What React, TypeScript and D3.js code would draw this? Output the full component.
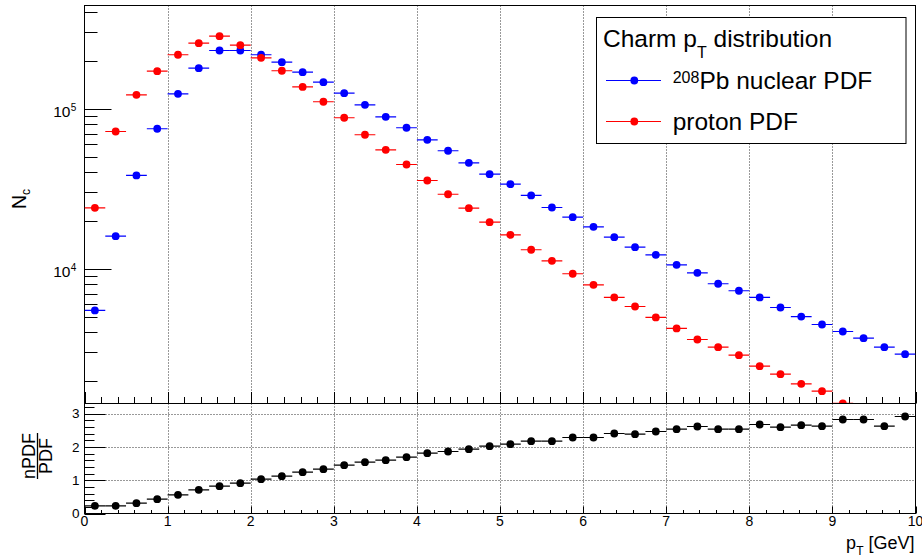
import React from "react";
import * as d3 from "d3";

// ---- data (40 bins of 0.25 GeV) ----
const ptCenters = [
  0.125, 0.375, 0.625, 0.875, 1.125, 1.375, 1.625, 1.875, 2.125, 2.375,
  2.625, 2.875, 3.125, 3.375, 3.625, 3.875, 4.125, 4.375, 4.625, 4.875,
  5.125, 5.375, 5.625, 5.875, 6.125, 6.375, 6.625, 6.875, 7.125, 7.375,
  7.625, 7.875, 8.125, 8.375, 8.625, 8.875, 9.125, 9.375, 9.625, 9.875,
];
const binHalfWidth = 0.125;

const nuclearPDF = [
  5490, 15990, 38300, 75000, 124000, 179400, 231300, 231300, 217600, 195500,
  169300, 146700, 125200, 105900, 89100, 76100, 64000, 54640, 45970, 39000,
  33800, 28730, 24160, 21020, 18300, 15760, 13650, 12230, 10590, 9440,
  8060, 7290, 6620, 5730, 5030, 4485, 4055, 3683, 3236, 2926,
];
const protonPDF = [
  24050, 72120, 122300, 171800, 217600, 257000, 284300, 249800, 208300, 172800,
  136900, 110600, 87880, 68800, 55430, 44850, 35630, 29230, 23920, 19550,
  16310, 13150, 11220, 9310, 7940, 6620, 5810, 4965, 4236, 3615,
  3236, 2884, 2461, 2194, 1910, 1718, 1440, 1306, 1235, 1005,
];
const ratio = [
  0.23, 0.23, 0.31, 0.43, 0.56, 0.71, 0.82, 0.91, 1.03, 1.12,
  1.24, 1.33, 1.45, 1.54, 1.6, 1.69, 1.81, 1.86, 1.93, 2.02,
  2.08, 2.17, 2.17, 2.28, 2.28, 2.4, 2.38, 2.46, 2.53, 2.61,
  2.53, 2.53, 2.67, 2.59, 2.65, 2.62, 2.82, 2.82, 2.62, 2.91,
];

const xTickValues = [0, 1, 2, 3, 4, 5, 6, 7, 8, 9, 10];
const ratioTickValues = [0, 1, 2, 3];
const logMajorExps = [4, 5];

const FONT = "'Liberation Sans', Arial, Helvetica, sans-serif";

export default function App() {
  const x = d3.scaleLinear().domain([0, 10]).range([84.5, 915.5]);
  const yTop = d3.scaleLog().domain([1439, 442000]).range([403.5, 5.5]);
  const yLow = d3.scaleLinear().domain([0, 3.3]).range([513.5, 403.5]);

  const xL = x(0), xR = x(10);
  const topT = 5.5, topB = 403.5, lowT = 403.5, lowB = 513.5;

  const xMinor = d3.range(0, 10.0001, 0.2).map((v) => Math.round(v * 10) / 10);
  const yLowMinor = d3.range(0, 3.3, 0.2).map((v) => Math.round(v * 10) / 10);
  const logMinor: number[] = [];
  [1000, 10000, 100000].forEach((dec) => {
    for (let k = 1; k <= 9; k++) {
      const v = dec * k;
      if (v >= 1439 && v <= 442000) logMinor.push(v);
    }
  });

  const series = [
    { values: nuclearPDF, color: "#0000ff" },
    { values: protonPDF, color: "#ff0000" },
  ];

  return (
    <svg width={922} height={560} style={{ display: "block", position: "absolute", left: 0, top: 0 }} fontFamily={FONT}>
      <rect x={0} y={0} width={922} height={560} fill="#fff" />
      <defs>
        <clipPath id="topClip">
          <rect x={xL} y={topT} width={xR - xL} height={topB - topT} />
        </clipPath>
        <clipPath id="lowClip">
          <rect x={xL} y={lowT} width={xR - xL} height={lowB - lowT} />
        </clipPath>
      </defs>

      {/* ---------- top pad ---------- */}
      {/* grid */}
      {xTickValues.slice(1, 10).map((t) => (
        <line key={"tg" + t} x1={Math.round(x(t)) + 0.5} x2={Math.round(x(t)) + 0.5} y1={topT} y2={topB}
          stroke="#000" strokeDasharray="1 2" strokeWidth={1} opacity={0.8} />
      ))}
      {/* frame */}
      <rect x={xL} y={topT} width={xR - xL} height={topB - topT} fill="none" stroke="#000" strokeWidth={1} />
      {/* x ticks (upward) */}
      {xMinor.map((t) => {
        const major = Math.abs(t - Math.round(t)) < 1e-6;
        const px = Math.round(x(t)) + 0.5;
        return <line key={"txt" + t} x1={px} x2={px} y1={topB} y2={topB - (major ? 11.5 : 6.5)} stroke="#000" />;
      })}
      {/* y ticks log */}
      {logMajorExps.map((e) => {
        const py = Math.round(yTop(Math.pow(10, e))) + 0.5;
        return (
          <g key={"ym" + e}>
            <line x1={xL} x2={xL + 27} y1={py} y2={py} stroke="#000" />
            <text x={70.5} y={py + 7} fontSize={15.5} textAnchor="end" fill="#000">10</text>
            <text x={70.8} y={py + 1.5} fontSize={10} textAnchor="start" fill="#000">{e}</text>
          </g>
        );
      })}
      {logMinor.map((v) => {
        const py = Math.round(yTop(v)) + 0.5;
        return <line key={"yn" + v} x1={xL} x2={xL + 13} y1={py} y2={py} stroke="#000" />;
      })}
      {/* y label */}
      <g transform="translate(26,209) rotate(-90)">
        <text x={0} y={0} fontSize={19.5} fill="#000">N<tspan fontSize={12} dy={4}>c</tspan></text>
      </g>

      {/* legend */}
      <rect x={596.5} y={17.5} width={309.5} height={126} fill="#fff" stroke="#000" strokeWidth={1} />
      <text x={603} y={46.7} fontSize={24.5} fill="#000">
        Charm p<tspan fontSize={16} dy={11}>T</tspan><tspan dy={-11}> distribution</tspan>
      </text>
      {series.map((s, i) => {
        const ly = i === 0 ? 80.5 : 121.5;
        return (
          <g key={"lg" + i}>
            <line x1={606} x2={661} y1={ly} y2={ly} stroke={s.color} strokeWidth={1} />
            <circle cx={634.3} cy={ly} r={3.9} fill={s.color} />
          </g>
        );
      })}
      <text x={672.7} y={89.3} fontSize={24.5} fill="#000">
        <tspan fontSize={16} dy={-6}>208</tspan><tspan dy={6}>Pb nuclear PDF</tspan>
      </text>
      <text x={672.7} y={130} fontSize={24.5} fill="#000">proton PDF</text>

      {/* data */}
      <g clipPath="url(#topClip)">
        {series.map((s, si) => (
          <g key={"s" + si}>
            {s.values.map((v, i) => {
              const cx = x(ptCenters[i]);
              const cy = yTop(v);
              return (
                <g key={i}>
                  <line x1={x(ptCenters[i] - binHalfWidth)} x2={x(ptCenters[i] + binHalfWidth)} y1={cy} y2={cy}
                    stroke={s.color} strokeWidth={1.2} />
                  <circle cx={cx} cy={cy} r={3.9} fill={s.color} />
                </g>
              );
            })}
          </g>
        ))}
      </g>

      {/* ---------- lower pad ---------- */}
      {xTickValues.slice(1, 10).map((t) => (
        <line key={"lg" + t} x1={Math.round(x(t)) + 0.5} x2={Math.round(x(t)) + 0.5} y1={lowT} y2={lowB}
          stroke="#000" strokeDasharray="1 2" opacity={0.8} />
      ))}
      {ratioTickValues.slice(1).map((t) => (
        <line key={"lh" + t} x1={xL} x2={xR} y1={Math.round(yLow(t)) + 0.5} y2={Math.round(yLow(t)) + 0.5}
          stroke="#000" strokeDasharray="1 2" opacity={0.8} />
      ))}
      <rect x={xL} y={lowT} width={xR - xL} height={lowB - lowT} fill="none" stroke="#000" strokeWidth={1} />
      {xMinor.map((t) => {
        const major = Math.abs(t - Math.round(t)) < 1e-6;
        const px = Math.round(x(t)) + 0.5;
        return <line key={"lxt" + t} x1={px} x2={px} y1={lowB} y2={lowB - (major ? 7 : 3.5)} stroke="#000" />;
      })}
      {xTickValues.map((t) => (
        <text key={"lxl" + t} x={x(t)} y={526} fontSize={14} textAnchor="middle" fill="#000">{t}</text>
      ))}
      {yLowMinor.map((t) => {
        const major = Math.abs(t - Math.round(t)) < 1e-6;
        const py = Math.round(yLow(t)) + 0.5;
        return <line key={"lyt" + t} x1={xL} x2={xL + (major ? 21 : 10)} y1={py} y2={py} stroke="#000" />;
      })}
      {ratioTickValues.map((t) => (
        <text key={"lyl" + t} x={79.5} y={yLow(t) + 4.8} fontSize={13.5} textAnchor="end" fill="#000">{t}</text>
      ))}
      <g clipPath="url(#lowClip)">
        {ratio.map((r, i) => {
          const cy = yLow(r);
          return (
            <g key={"r" + i}>
              <line x1={x(ptCenters[i] - binHalfWidth)} x2={x(ptCenters[i] + binHalfWidth)} y1={cy} y2={cy}
                stroke="#000" strokeWidth={1.2} />
              <circle cx={x(ptCenters[i])} cy={cy} r={3.9} fill="#000" />
            </g>
          );
        })}
      </g>
      {/* lower y label: fraction */}
      <g transform="translate(35,456) rotate(-90)">
        <text x={0} y={0} fontSize={18} textAnchor="middle" fill="#000">nPDF</text>
        <line x1={-23} x2={23} y1={2.5} y2={2.5} stroke="#000" strokeWidth={1.3} />
        <text x={0} y={17} fontSize={18} textAnchor="middle" fill="#000">PDF</text>
      </g>
      {/* x label */}
      <text x={914.5} y={549} fontSize={18} textAnchor="end" fill="#000">
        p<tspan fontSize={12} dy={6}>T</tspan><tspan dy={-6}> [GeV]</tspan>
      </text>
    </svg>
  );
}
